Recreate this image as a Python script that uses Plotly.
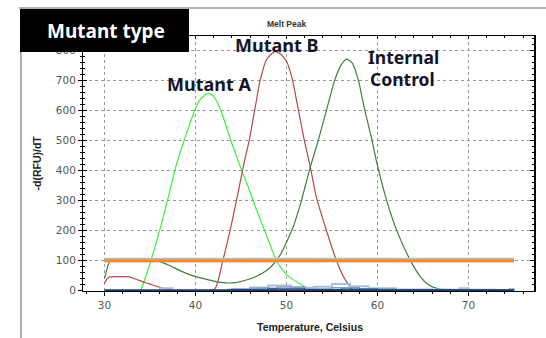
import plotly.graph_objects as go

# ---- data ----
X_TICKS = [30, 40, 50, 60, 70]
Y_TICKS = [0, 100, 200, 300, 400, 500, 600, 700, 800]

# Mutant A (green)
ma_x = [34.0, 35.1, 36.1, 37.0, 37.9, 38.8, 39.9, 40.6, 41.4, 42.0, 42.8, 43.9, 44.9,
        45.8, 46.7, 47.8, 48.9, 49.6, 50.3, 51.5, 52.6]
ma_y = [0, 100, 205, 310, 420, 505, 600, 640, 658, 648, 600, 500, 415,
        345, 270, 185, 100, 68, 46, 22, 2]

# Mutant B (red) incl. small low-temperature hump
mb_x = [30.0, 30.3, 30.6, 31.5, 32.7, 33.5, 34.2, 35.2, 36.0, 36.8, 37.5, 40.0,
        42.1, 43.0, 43.8, 44.5, 45.3, 45.9, 46.5, 47.1, 47.8, 48.7, 49.3, 50.0,
        50.6, 51.2, 51.9, 52.6, 53.3, 54.4, 55.5, 56.3, 57.2]
mb_y = [25, 40, 46, 47, 46, 38, 30, 20, 12, 5, 0, 0,
        5, 100, 200, 300, 420, 500, 600, 700, 770, 797, 790, 765,
        710, 620, 510, 415, 310, 200, 100, 45, 3]

# Internal control (dark green)
ic_x = [30.0, 30.3, 30.6, 31.5, 33.0, 35.0, 36.1, 37.2, 38.3, 39.5, 40.8, 42.0, 43.3,
        44.4, 45.4, 46.5, 47.6, 48.3, 48.9, 49.5, 50.2, 50.7, 51.5, 52.6, 53.5, 54.4,
        55.3, 56.0, 56.6, 57.2, 57.9, 58.6, 59.4, 59.9, 61.0, 62.1, 63.6, 64.7, 65.6,
        66.5, 67.5, 70.0, 75.0]
ic_y = [40, 75, 100, 103, 103, 101, 97, 83, 67, 52, 41, 32, 26,
        27, 34, 45, 63, 80, 100, 130, 175, 210, 285, 410, 502, 602,
        702, 752, 772, 760, 702, 602, 502, 430, 302, 202, 102, 47, 20,
        8, 2, 0, 0]

# threshold line and baselines
thr_x = [30, 75]
thr_y = [100, 100]
base_x = [30, 75]
base_y = [0, 0]
lb1_x = [36, 37.5, 44, 46, 48, 50.5, 53, 55, 57, 59, 62, 68, 69, 70, 73, 74.5, 75]
lb1_y = [8, 0, 6, 11, 17, 10, 13, 22, 15, 8, 4, 3, 8, 3, 2, 6, 2]
lb2_x = [43.5, 46, 49, 52, 55, 58, 62, 66, 75]
lb2_y = [4, 8, 12, 6, 10, 6, 3, 1, 1]
db_x = [44, 48, 52, 56, 60, 75]
db_y = [3, 6, 4, 5, 2, 1]

XR = [27.64, 77.2]
YR = [-1, 849]

fig = go.Figure()

curve = dict(width=1.2, shape="spline", smoothing=0.6)
fig.add_trace(go.Scatter(x=ma_x, y=ma_y, mode="lines", line=dict(curve, color="#3cf03c")))
fig.add_trace(go.Scatter(x=mb_x, y=mb_y, mode="lines", line=dict(curve, color="#b04a4a")))
fig.add_trace(go.Scatter(x=ic_x, y=ic_y, mode="lines", line=dict(curve, color="#3f7f3f")))
fig.add_trace(go.Scatter(x=lb1_x, y=lb1_y, mode="lines", line=dict(color="#a9c0dc", width=2, shape="hv")))
fig.add_trace(go.Scatter(x=lb2_x, y=lb2_y, mode="lines", line=dict(color="#7f9cc4", width=1.5, shape="hv")))
fig.add_trace(go.Scatter(x=db_x, y=db_y, mode="lines", line=dict(color="#2a4f86", width=1.2, shape="hv")))
fig.add_trace(go.Scatter(x=base_x, y=base_y, mode="lines", line=dict(color="#1f3d6b", width=3)))
fig.add_trace(go.Scatter(x=thr_x, y=[v + 2 for v in thr_y], mode="lines", line=dict(color="#a9c0dc", width=4.5)))
fig.add_trace(go.Scatter(x=thr_x, y=thr_y, mode="lines", line=dict(color="#ff8c1a", width=3)))
# dummy traces to activate the overlay axes (frame ticks)
fig.add_trace(go.Scatter(x=[XR[0]], y=[YR[0]], xaxis="x2", yaxis="y2", mode="lines", hoverinfo="skip"))
fig.add_trace(go.Scatter(x=[XR[0]], y=[YR[0]], xaxis="x", yaxis="y3", mode="lines", hoverinfo="skip"))

tickfont = dict(family="DejaVu Sans", size=10.5, color="#555555")

fig.update_layout(
    width=546, height=338,
    margin=dict(l=83, r=12, t=36, b=47),
    paper_bgcolor="white", plot_bgcolor="white",
    showlegend=False,
    xaxis=dict(range=XR, tickvals=X_TICKS, showline=True, linecolor="black", linewidth=1,
               ticks="outside", ticklen=4, tickcolor="black", zeroline=False,
               showgrid=True, gridcolor="#9a9a9a", griddash="dot", gridwidth=1,
               minor=dict(ticks="outside", ticklen=2, dtick=2, tick0=28, tickcolor="black", showgrid=False),
               tickfont=tickfont),
    yaxis=dict(range=YR, tickvals=Y_TICKS, showline=True, linecolor="black", linewidth=1,
               ticks="outside", ticklen=4, tickcolor="black", zeroline=False,
               showgrid=True, gridcolor="#9a9a9a", griddash="dot", gridwidth=1,
               minor=dict(ticks="outside", ticklen=2, dtick=20, tick0=0, tickcolor="black", showgrid=False),
               tickfont=tickfont),
    xaxis2=dict(range=XR, overlaying="x", side="top", anchor="y", showline=True, linecolor="black",
                linewidth=1, ticks="inside", ticklen=3, tickvals=X_TICKS, tickcolor="black",
                showticklabels=False, showgrid=False, zeroline=False,
                minor=dict(ticks="inside", ticklen=2, dtick=2, tick0=28, tickcolor="black")),
    yaxis2=dict(range=YR, overlaying="y", side="right", anchor="x", showline=True, linecolor="black",
                linewidth=2, ticks="inside", ticklen=4, tickvals=Y_TICKS, tickcolor="black",
                showticklabels=False, showgrid=False, zeroline=False,
                minor=dict(ticks="inside", ticklen=2, dtick=20, tick0=0, tickcolor="black")),
    yaxis3=dict(range=YR, overlaying="y", side="left", anchor="x", showline=False,
                ticks="inside", ticklen=4, tickvals=Y_TICKS, tickcolor="black",
                showticklabels=False, showgrid=False, zeroline=False,
                minor=dict(ticks="inside", ticklen=2, dtick=20, tick0=0, tickcolor="black")),
)

# frame lines and the black label box (paper coordinates)
fig.add_shape(type="line", xref="paper", yref="paper", x0=-0.142, x1=1.03, y0=1.11, y1=1.11,
              line=dict(color="#b0b0b0", width=2), layer="above")
fig.add_shape(type="line", xref="paper", yref="paper", x0=-0.1375, x1=-0.1375, y0=1.11, y1=-0.19,
              line=dict(color="#b0b0b0", width=2), layer="above")
fig.add_shape(type="rect", xref="paper", yref="paper", x0=-0.1397, x1=0.235, y0=0.937, y1=1.106,
              fillcolor="black", line=dict(width=0), layer="above")

def ann(text, x, y, font, xanchor="center", angle=0):
    fig.add_annotation(text=text, xref="paper", yref="paper", x=x, y=y, xanchor=xanchor,
                       yanchor="middle", showarrow=False, font=font, textangle=angle)

label_font = dict(family="Noto Sans", size=18, color="#141428", weight="bold")
ann("Mutant type", 0.051, 1.02, dict(family="Noto Sans", size=19, color="white", weight="bold"))
ann("Melt Peak", 0.452, 1.047, dict(family="Liberation Sans", size=8.5, color="#333333", weight="bold"))
ann("Mutant A", 0.279, 0.812, label_font)
ann("Mutant B", 0.428, 0.966, label_font)
ann("Internal", 0.628, 0.916, dict(label_font, size=17.5), xanchor="left")
ann("Control", 0.633, 0.830, dict(label_font, size=17.5), xanchor="left")
ann("Temperature, Celsius", 0.504, -0.140,
    dict(family="Liberation Sans", size=10.5, color="#222222", weight="bold"))
ann("-d(RFU)/dT", -0.102, 0.504,
    dict(family="Liberation Sans", size=10.5, color="#222222", weight="bold"), angle=-90)

fig.write_html("out.html")
